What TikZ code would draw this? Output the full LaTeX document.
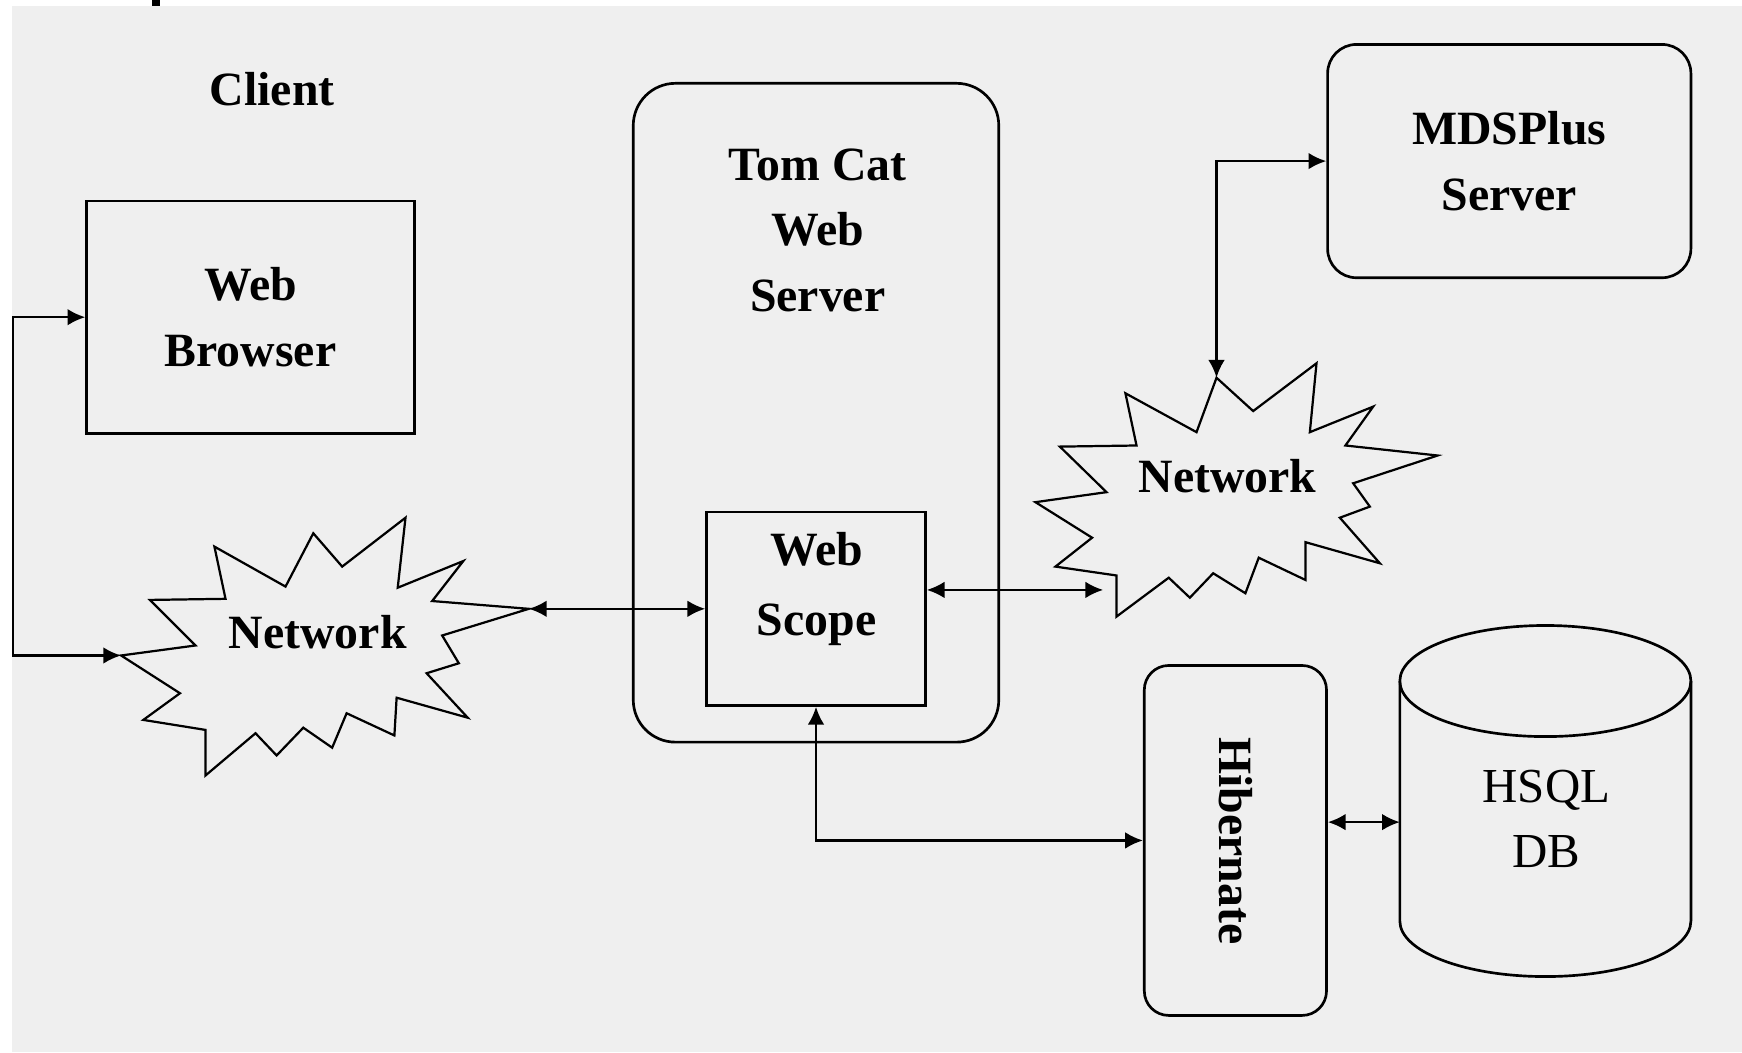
\documentclass[tikz,border=0pt]{standalone}
\usepackage{fontspec}
\setmainfont{Liberation Serif}
\usetikzlibrary{arrows.meta}
\definecolor{bgc}{HTML}{EFEFEF}
\begin{document}
\begin{tikzpicture}[x=0.5pt,y=-0.5pt,
  box/.style={draw, line width=1.2pt, fill=bgc, inner sep=0pt},
  lbl/.style={font=\fontsize{21.5}{29.5}\selectfont\bfseries, align=center, inner sep=0pt},
  lblr/.style={font=\fontsize{22}{29.5}\selectfont, align=center, inner sep=0pt},
  arr/.style={line width=1.1pt, {Latex[length=8pt,width=7.5pt]}-{Latex[length=8pt,width=7.5pt]}},
  starshape/.style={draw, line width=1pt, fill=bgc, line join=miter}]
% page and background
\useasboundingbox (0,0) rectangle (1568,947);
\fill[white] (0,0) rectangle (1568,947);
\fill[bgc] (11,5) rectangle (1568,947);
\fill[black] (137,0) rectangle (144,5);

% Client label
\node[lbl] (client) at (245,80) {Client};

% Web Browser
\node[box, minimum width=147.5pt, minimum height=104.5pt, lbl, draw] (browser) at (225.5,285.5) {Web\\Browser};

% Tom Cat server
\node[box, rounded corners=19pt, minimum width=164.5pt, minimum height=296.5pt] (tomcat) at (734.5,371.5) {};
\node[lbl] (tomcatT) at (736,207) {Tom Cat\\Web\\Server};

% Web Scope
\node[box, minimum width=98.5pt, minimum height=87pt] (ws) at (734.5,548) {};
\node[lbl] (wsT) at (735,530) {Web\\[2pt]Scope};

% MDSPlus Server
\node[box, rounded corners=13pt, minimum width=163.5pt, minimum height=105pt, lbl, draw] (mds) at (1358.5,145) {MDSPlus\\Server};

% Hibernate
\node[box, rounded corners=11pt, minimum width=82pt, minimum height=157.5pt] (hib) at (1112,756.5) {};
\node[lbl, rotate=-90] (hibT) at (1112,757) {Hibernate};

% HSQL DB cylinder
\node[inner sep=0pt, minimum width=131pt, minimum height=157pt] (db) at (1391,721.5) {};
\draw[line width=1.2pt, fill=bgc] (1260,613) -- (1260,829)
  arc[start angle=180, end angle=360, x radius=65.5pt, y radius=25pt] -- (1522,613);
\draw[line width=1.2pt] (1391,613) ellipse [x radius=65.5pt, y radius=25pt];
\node[lblr] (dbT) at (1392,737) {HSQL\\DB};

% Left network star
\coordinate (netLw) at (109,590);
\coordinate (netLe) at (476,548);
\draw[starshape] (netLw) -- (176,581) -- (135,540) -- (203,539) -- (193,492) -- (257,528)
  -- (282,480) -- (308,510) -- (365,466) -- (358,529) -- (417,505) -- (389,541)
  -- (netLe) -- (398,572) -- (413,597) -- (384,606) -- (421,646) -- (357,628)
  -- (355,662) -- (312,642) -- (299,673) -- (273,655) -- (249,680) -- (230,660)
  -- (185,698) -- (185,657) -- (129,648) -- (162,624) -- cycle;
\node[lbl] (netLT) at (286,569) {Network};

% Right network star
\coordinate (netRn) at (1095,340);
\coordinate (netRin) at (993,531);
\draw[starshape] (netRn) -- (1128,370) -- (1185,327) -- (1179,389) -- (1236,366) -- (1211,401)
  -- (1294,410) -- (1218,435) -- (1233,456) -- (1206,466) -- (1242,507) -- (1175,488)
  -- (1175,522) -- (1133,502) -- (1121,534) -- (1092,516) -- (1071,538) -- (1052,520)
  -- (1005,555) -- (1005,518) -- (950,510) -- (983,484) -- (932,452) -- (996,443)
  -- (954,402) -- (1023,401) -- (1013,354) -- (1077,389) -- cycle;
\node[lbl] (netRT) at (1105,429) {Network};

% connectors
\draw[arr] (browser.west) -- ++(-65,0) |- (netLw);
\draw[arr] (netLe) -- (ws.west);
\draw[arr] (ws.east |- netRin) -- (netRin);
\draw[arr] (netRn) |- (mds.west);
\draw[arr] (ws.south) |- (hib.west);
\coordinate (dbin) at (1260,740);
\draw[arr] (hib.east |- dbin) -- (dbin);
\end{tikzpicture}
\end{document}
